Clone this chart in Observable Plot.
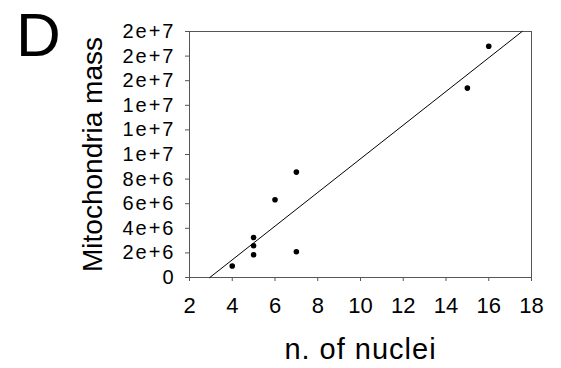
<!DOCTYPE html>
<html>
<head>
<meta charset="utf-8">
<script src="https://cdn.jsdelivr.net/npm/d3@7"></script>
<script src="https://cdn.jsdelivr.net/npm/@observablehq/plot@0.6"></script>
<style>
  html, body { margin: 0; padding: 0; background: #fff; }
  svg { display: block; }
</style>
</head>
<body>
<div id="chart"></div>
<script>
// Data
const nuclei = [4, 5, 5, 5, 7, 6, 7, 15, 16];
const mitoMass = [0.93e6, 1.85e6, 2.58e6, 3.25e6, 2.09e6, 6.32e6, 8.57e6, 15.4e6, 18.8e6];

// Linear fit
const fitX = [2.95, 17.56];
const fitY = [0, 20e6];

// Ticks
const xTicks = [2, 4, 6, 8, 10, 12, 14, 16, 18];
const yTicks = [0, 2e6, 4e6, 6e6, 8e6, 10e6, 12e6, 14e6, 16e6, 18e6, 20e6];
const yTickLabels = ["0", "2e+6", "4e+6", "6e+6", "8e+6", "1e+7", "1e+7", "1e+7", "2e+7", "2e+7", "2e+7"];

const points = nuclei.map((n, i) => ({n, m: mitoMass[i]}));
const fit = fitX.map((x, i) => ({x, y: fitY[i]}));

const font = "'Liberation Sans', Arial, Helvetica, sans-serif";
const axisColor = "#555";

const chart = Plot.plot({
  width: 561,
  height: 368,
  marginLeft: 189,
  marginRight: 30,
  marginTop: 31,
  marginBottom: 91,
  style: {fontFamily: font, background: "#fff", color: "#000"},
  x: {domain: [2, 18]},
  y: {domain: [0, 20e6]},
  marks: [
    Plot.frame({stroke: axisColor}),
    Plot.axisX({
      ticks: xTicks, tickSize: 4, tickPadding: 16, fontSize: 22,
      stroke: axisColor, color: "#000", label: null
    }),
    Plot.axisY({
      ticks: yTicks, tickSize: 4, tickPadding: 10, fontSize: 20,
      tickFormat: d => yTickLabels[yTicks.indexOf(d)],
      stroke: axisColor, color: "#000", label: null
    }),
    Plot.line(fit, {x: "x", y: "y", stroke: "#000", strokeWidth: 1}),
    Plot.dot(points, {x: "n", y: "m", r: 2.8, fill: "#000", stroke: "none"}),
    Plot.text(["n. of nuclei"], {
      frameAnchor: "bottom", dy: 72, fontSize: 29, fill: "#000",
      textAnchor: "middle", lineAnchor: "middle"
    }),
    Plot.text(["Mitochondria mass"], {
      frameAnchor: "left", dx: -96, rotate: -90, fontSize: 28, fill: "#000",
      textAnchor: "middle", lineAnchor: "middle"
    }),
    Plot.text(["D"], {
      frameAnchor: "top-left", dx: -151, dy: 5, fontSize: 62, fill: "#000",
      textAnchor: "middle", lineAnchor: "middle"
    })
  ]
});
// widen glyph spacing to match the reference's wider lettering
d3.select(chart).selectAll('g[aria-label="y-axis tick label"] text').style("letter-spacing", "2px");
d3.select(chart).selectAll('g[aria-label="text"] text').filter(function() { return this.textContent === "n. of nuclei"; }).style("letter-spacing", "1px");
document.getElementById("chart").appendChild(chart);
</script>
</body>
</html>
